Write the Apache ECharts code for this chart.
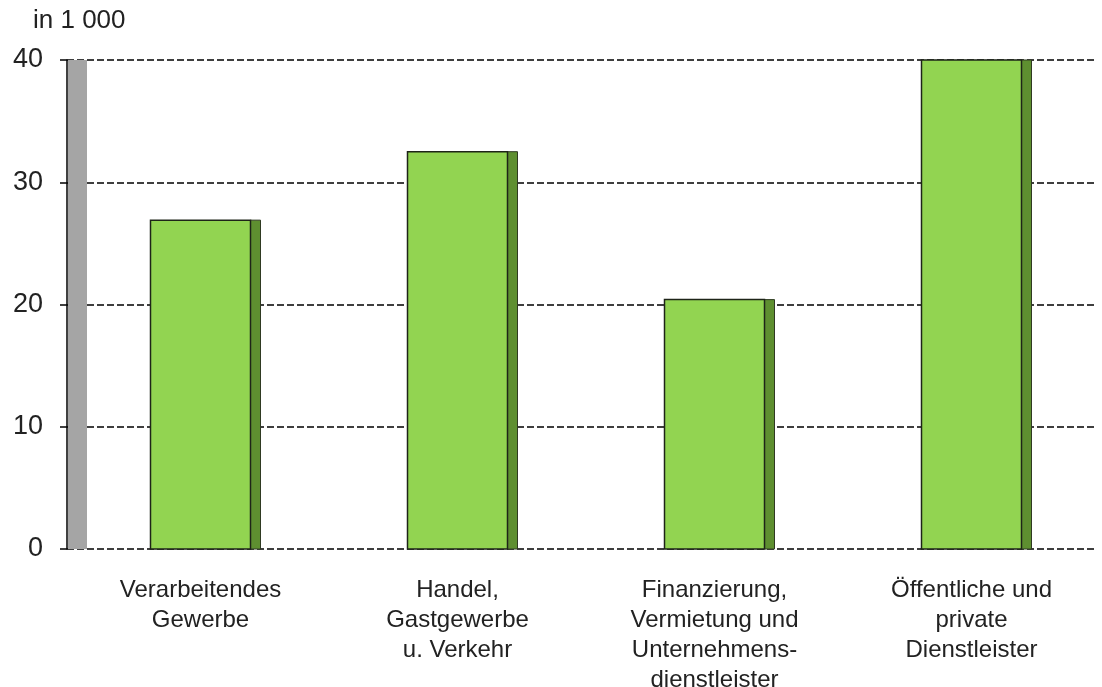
<!DOCTYPE html>
<html>
<head>
<meta charset="utf-8">
<script src="https://cdn.jsdelivr.net/npm/echarts@6/dist/echarts.min.js"></script>
<style>
html,body{margin:0;padding:0;background:#fff;}
#main{width:1102px;height:687px;}
</style>
</head>
<body>
<div id="main"></div>
<script>
var categories = ['Verarbeitendes\nGewerbe', 'Handel,\nGastgewerbe\nu. Verkehr', 'Finanzierung,\nVermietung und\nUnternehmens-\ndienstleister', 'Öffentliche und\nprivate\nDienstleister'];
var values = [26.9, 32.5, 20.4, 40.0];
var yTicks = [0, 10, 20, 30, 40];

initChart();

function initChart(){
    var chart = echarts.init(document.getElementById('main'));
    var option = {
        animation: false,
        textStyle: {fontFamily: 'Liberation Sans, Arial, sans-serif'},
        grid: {left: 67, right: 7, top: 60, bottom: 138, outerBoundsMode: 'none', containLabel: false},
        graphic: [{
            type: 'rect',
            shape: {x: 68, y: 60, width: 19, height: 489},
            style: {fill: '#a5a5a5'},
            z: 1
        }],
        xAxis: {
            type: 'category',
            data: categories,
            axisLine: {show: false},
            axisTick: {show: false},
            axisLabel: {
                color: '#222', fontSize: 24, lineHeight: 30, margin: 26,
                padding: [0, 0, 0, 10]
            }
        },
        yAxis: {
            type: 'value',
            min: yTicks[0], max: yTicks[yTicks.length - 1], interval: 10,
            name: 'in 1 000',
            nameLocation: 'end',
            nameGap: 26,
            nameTextStyle: {color: '#222', fontSize: 26, align: 'left', padding: [0, 0, 0, -34]},
            axisLine: {show: true, lineStyle: {color: '#000', width: 1.5}},
            axisTick: {show: true, length: 7, lineStyle: {color: '#000', width: 1.5}},
            axisLabel: {color: '#222', fontSize: 27, margin: 24},
            splitLine: {show: true, lineStyle: {color: '#000', type: [7, 3], width: 1.5}}
        },
        series: [{
            type: 'custom',
            data: values,
            z: 5,
            renderItem: function(params, api){
                var c = api.coord([api.value(0), api.value(1)]);
                var base = api.coord([api.value(0), 0]);
                var x0 = c[0] - 45;
                var h = base[1] - c[1];
                return {
                    type: 'group',
                    children: [{
                        type: 'rect',
                        shape: {x: x0 + 100, y: c[1], width: 10, height: h},
                        style: {fill: '#5e8f30', stroke: '#2f3a22', lineWidth: 1}
                    }, {
                        type: 'rect',
                        shape: {x: x0, y: c[1], width: 100, height: h},
                        style: {fill: '#92d451', stroke: '#1e2418', lineWidth: 1.5}
                    }]
                };
            }
        }]
    };
    chart.setOption(option);
}
</script>
</body>
</html>
